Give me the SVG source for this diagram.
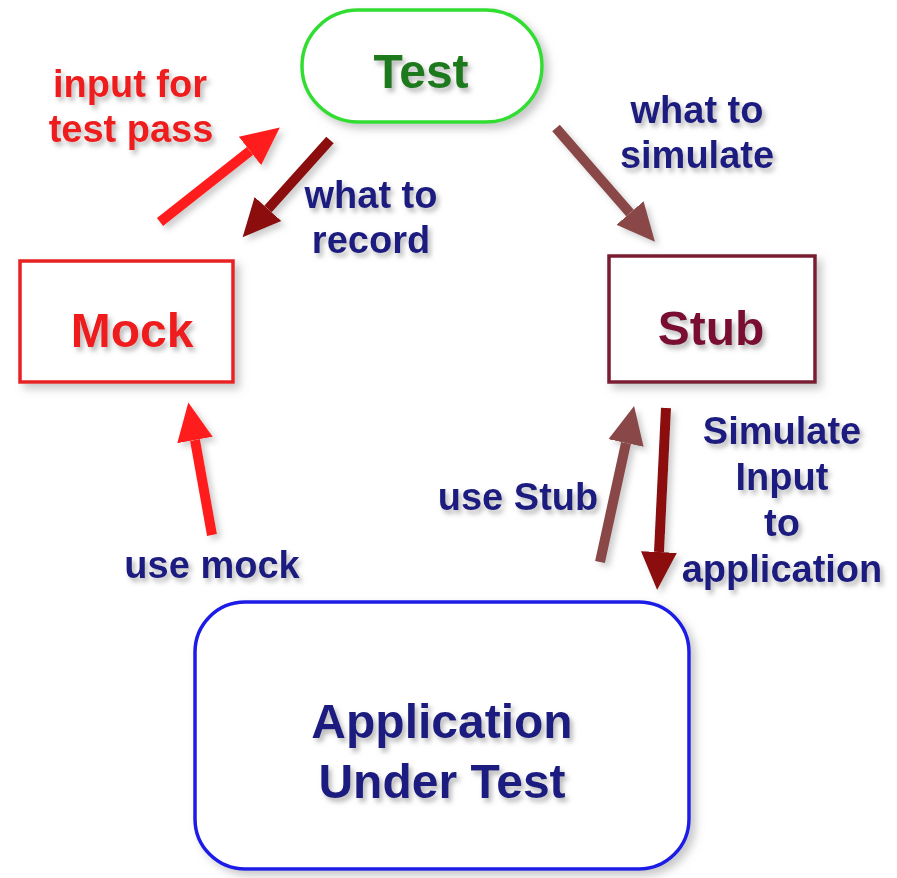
<svg xmlns="http://www.w3.org/2000/svg" width="897" height="878" viewBox="0 0 897 878">
<style>
text{font-family:"Liberation Sans",Arial,sans-serif;font-weight:bold;text-anchor:middle;filter:url(#sh)}
.node{font-size:48px}
.lbl{font-size:38px;fill:#1a1a80}
.red{fill:#ee1c1c}
.box{fill:#fff;stroke-width:3.5;filter:url(#shb)}
.arr{fill:none;stroke-width:10}
</style>
<defs>
<filter id="sh" filterUnits="userSpaceOnUse" x="0" y="0" width="897" height="878"><feDropShadow dx="3" dy="4" stdDeviation="2.5" flood-color="#808080" flood-opacity="0.55"/></filter>
<filter id="shb" filterUnits="userSpaceOnUse" x="0" y="0" width="897" height="878"><feDropShadow dx="5" dy="5" stdDeviation="4" flood-color="#909090" flood-opacity="0.5"/></filter>
<filter id="sha" filterUnits="userSpaceOnUse" x="0" y="0" width="897" height="878"><feDropShadow dx="4" dy="4" stdDeviation="3" flood-color="#909090" flood-opacity="0.45"/></filter>
<marker id="mRed" markerUnits="userSpaceOnUse" markerWidth="40" markerHeight="40" viewBox="0 0 40 40" refX="0" refY="20" orient="auto"><path d="M0,2 L38,20 L0,38 Z" fill="#ff1a1a"/></marker>
<marker id="mDark" markerUnits="userSpaceOnUse" markerWidth="40" markerHeight="40" viewBox="0 0 40 40" refX="0" refY="20" orient="auto"><path d="M0,2 L38,20 L0,38 Z" fill="#8b0a0a"/></marker>
<marker id="mBrown" markerUnits="userSpaceOnUse" markerWidth="40" markerHeight="40" viewBox="0 0 40 40" refX="0" refY="20" orient="auto"><path d="M0,2 L38,20 L0,38 Z" fill="#8a4646"/></marker>
</defs>
<rect width="897" height="878" fill="#fff"/>
<g id="test">
<rect class="box" x="302" y="10" width="240" height="112" rx="56" stroke="#33dd33"/>
<text class="node" x="421" y="88" fill="#1a7a1a">Test</text>
</g>
<g id="mock">
<rect class="box" x="20" y="261" width="213" height="121" stroke="#e82020"/>
<text class="node" x="132" y="347" fill="#ee1c1c">Mock</text>
</g>
<g id="stub">
<rect class="box" x="609" y="256" width="206" height="126" stroke="#7a1a30"/>
<text class="node" x="711" y="345" fill="#7a1030">Stub</text>
</g>
<g id="app">
<rect class="box" x="195" y="602" width="494" height="267" rx="50" stroke="#1a1ae6"/>
<text class="node" x="442" y="738" fill="#1a1a80">Application</text>
<text class="node" x="442" y="798" fill="#1a1a80">Under Test</text>
</g>
<g id="connectors" filter="url(#sha)">
<line class="arr" x1="160" y1="222" x2="250" y2="151" stroke="#ff1a1a" marker-end="url(#mRed)"/>
<line class="arr" x1="330" y1="140" x2="268" y2="209" stroke="#8b0a0a" stroke-width="9" marker-end="url(#mDark)"/>
<line class="arr" x1="556" y1="128" x2="630" y2="213" stroke="#8a4646" stroke-width="9" marker-end="url(#mBrown)"/>
<line class="arr" x1="212" y1="535" x2="195" y2="440" stroke="#ff1a1a" marker-end="url(#mRed)"/>
<line class="arr" x1="600" y1="562" x2="626" y2="443" stroke="#8a4646" stroke-width="9" marker-end="url(#mBrown)"/>
<line class="arr" x1="666" y1="408" x2="659" y2="552" stroke="#8b0a0a" stroke-width="9" marker-end="url(#mDark)"/>
</g>
<g id="labels">
<text class="lbl red" x="130" y="97">input for</text>
<text class="lbl red" x="131" y="142">test pass</text>
<text class="lbl" x="371" y="208">what to</text>
<text class="lbl" x="371" y="253">record</text>
<text class="lbl" x="697" y="123">what to</text>
<text class="lbl" x="697" y="168">simulate</text>
<text class="lbl" x="782" y="444">Simulate</text>
<text class="lbl" x="782" y="490">Input</text>
<text class="lbl" x="782" y="536">to</text>
<text class="lbl" x="782" y="582">application</text>
<text class="lbl" x="518" y="510">use Stub</text>
<text class="lbl" x="212" y="578">use mock</text>
</g>
</svg>
